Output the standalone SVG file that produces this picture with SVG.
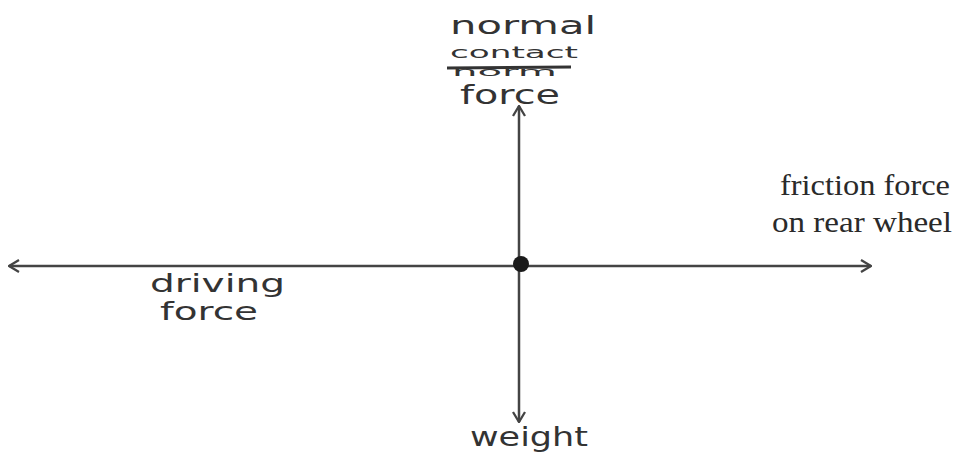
<svg xmlns="http://www.w3.org/2000/svg" width="957" height="462" viewBox="0 0 957 462">
<style>
.hand{font-family:"DejaVu Sans","Noto Sans",sans-serif;font-size:26px;fill:#333}
.serif{font-family:"Liberation Serif","Times New Roman",serif;font-size:30px;fill:#2a2a2a}
.ln{stroke:#444;stroke-width:2.5;fill:none}
</style>
<defs>
<marker id="ah" viewBox="0 0 12 14" refX="11" refY="7" markerWidth="12" markerHeight="14" markerUnits="userSpaceOnUse" orient="auto-start-reverse">
<path d="M1,1 L11,7 L1,13" fill="none" stroke="#444" stroke-width="2.3"/>
</marker>
</defs>
<rect width="957" height="462" fill="#fff"/>
<g id="connectors">
<line class="ln" x1="9" y1="266" x2="871" y2="266" marker-start="url(#ah)" marker-end="url(#ah)"/>
<line class="ln" x1="519" y1="106" x2="519" y2="422" marker-start="url(#ah)" marker-end="url(#ah)"/>
</g>
<g id="point">
<circle cx="521" cy="264" r="8" fill="#1a1a1a"/>
</g>
<g id="normal-contact-force">
<text class="hand" x="450" y="34" style="font-size:24px" textLength="146" lengthAdjust="spacingAndGlyphs">normal</text>
<text class="hand" x="450" y="58" style="font-size:16px" textLength="128" lengthAdjust="spacingAndGlyphs">contact</text>
<text class="hand" x="452" y="76" style="font-size:12px" textLength="105" lengthAdjust="spacingAndGlyphs">norm</text>
<line x1="447" y1="68" x2="571" y2="67" stroke="#333" stroke-width="3"/>
<text class="hand" x="460" y="104" textLength="100" lengthAdjust="spacingAndGlyphs">force</text>
</g>
<g id="friction-force">
<text class="serif" x="780" y="195" textLength="170" lengthAdjust="spacingAndGlyphs">friction force</text>
<text class="serif" x="772" y="232" textLength="180" lengthAdjust="spacingAndGlyphs">on rear wheel</text>
</g>
<g id="driving-force">
<text class="hand" x="150" y="292" style="font-size:24px" textLength="135" lengthAdjust="spacingAndGlyphs">driving</text>
<text class="hand" x="160" y="320" style="font-size:24px" textLength="98" lengthAdjust="spacingAndGlyphs">force</text>
</g>
<g id="weight">
<text class="hand" x="470" y="446" textLength="118" lengthAdjust="spacingAndGlyphs">weight</text>
</g>
</svg>
